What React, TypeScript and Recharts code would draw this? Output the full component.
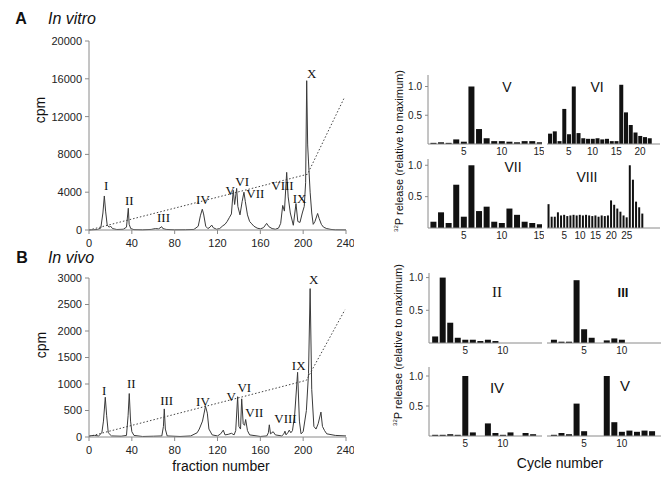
import React from "react";
import {
  LineChart,
  Line,
  BarChart,
  Bar,
  XAxis,
  YAxis,
  ReferenceDot,
} from "recharts";

const SANS = "'Liberation Sans', Arial, Helvetica, sans-serif";
const SERIF = "'Liberation Serif', 'Times New Roman', serif";
const AXIS = "#8a8a8a";
const INK = "#222";

// ---- chromatograms: [fraction, cpm]
const vitroTrace: [number, number][] = [
  [0, 0], [4, 30], [8, 60], [11, 200], [13, 1800], [14.3, 3600], [15.5, 2000], [17, 500],
  [19, 300], [20, 420], [22, 150], [26, 50], [32, 80], [35, 300], [36.7, 2300], [37.5, 600],
  [39, 150], [42, 40], [50, 20], [58, 60], [62, 150], [65, 120], [67.9, 350], [69, 150],
  [72, 60], [80, 20], [90, 30], [98, 60], [102, 400], [104, 1500], [105.8, 2200], [107, 1700],
  [109, 400], [111, 150], [113, 300], [114.6, 520], [116, 250], [119, 80], [122, 150],
  [125, 450], [127, 600], [129, 900], [131, 1300], [133, 1700], [134.7, 4200], [136, 2700],
  [137.9, 4400], [139, 2500], [141, 1600], [143, 3000], [144.7, 4000], [146, 3000],
  [148, 1600], [150, 900], [152, 650], [154, 400], [157, 200], [160, 120], [163, 250],
  [165.9, 700], [168, 350], [171, 150], [174, 80], [177, 200], [179, 700], [180.9, 2600],
  [182.5, 2000], [184.6, 6100], [186, 3500], [188, 1800], [190.8, 500], [193.3, 2800],
  [195, 900], [197, 800], [199.2, 1800], [201, 2500], [202.3, 5000], [203.3, 15800],
  [204.2, 9000], [205, 7200], [206.5, 4000], [208, 1800], [209.4, 600], [211, 900],
  [213.5, 1750], [215, 1200], [217, 600], [219, 300], [222, 150], [226, 60], [230, 20],
  [240, 10],
];
const vitroGradient: [number, number][] = [[0, 0], [204, 5900], [238, 13900]];

const vivoTrace: [number, number][] = [
  [0, 20], [5, 30], [9, 20], [12, 80], [13.5, 300], [15.2, 750], [16.5, 400], [18, 80],
  [21, 20], [30, 15], [35, 30], [36.5, 400], [37.6, 820], [38.8, 300], [40, 100], [42, 30],
  [50, 10], [60, 15], [68, 20], [69.5, 200], [70.3, 530], [71.3, 150], [73, 20], [85, 10],
  [95, 20], [101, 80], [103, 150], [106, 300], [108.8, 580], [110.5, 450], [112, 150],
  [115, 40], [120, 20], [123, 60], [125.4, 130], [127, 40], [130, 50], [133, 70],
  [135.5, 40], [137, 120], [138.8, 760], [140, 200], [141.5, 150], [142.6, 720], [144, 250],
  [145.3, 220], [146.3, 330], [148, 120], [150, 40], [160, 10], [166, 20], [167.5, 80],
  [168.4, 230], [169.5, 60], [172, 100], [174, 40], [180, 20], [182, 60], [183, 110],
  [184, 40], [186, 90], [187, 130], [188.5, 80], [190, 120], [192, 400], [194.8, 1220],
  [196.5, 300], [198, 60], [200, 100], [203, 500], [205, 1200], [206.5, 2800], [208, 900],
  [210, 200], [212, 150], [214, 250], [216.6, 470], [218, 200], [220, 120], [222, 60],
  [230, 30], [240, 20],
];
const vivoGradient: [number, number][] = [[0, 10], [203, 1070], [239, 2400]];

const fractionTicks = [0, 40, 80, 120, 160, 200, 240];
const vitroCpmTicks = [0, 4000, 8000, 12000, 16000, 20000];
const vivoCpmTicks = [0, 500, 1000, 1500, 2000, 2500, 3000];

// peak names and where they are written, [name, fraction, cpm]
const vitroPeaks: [string, number, number][] = [
  ["I", 16, 4760], ["II", 37.6, 3170], ["III", 69.6, 1375], ["IV", 106.4, 3280],
  ["V", 131.8, 4127], ["VI", 143, 5080], ["VII", 155.3, 3915], ["VIII", 180.7, 4760],
  ["IX", 196.7, 3386], ["X", 208, 16610],
];
const vivoPeaks: [string, number, number][] = [
  ["I", 14.1, 881], ["II", 39.5, 1013], ["III", 72.5, 692], ["IV", 106.4, 679],
  ["V", 132.7, 768], ["VI", 145, 925], ["VII", 154.4, 453], ["VIII", 183.5, 353],
  ["IX", 195.8, 1353], ["X", 209.9, 2976],
];

// ---- 32P release per cycle (relative to maximum)
const vitroV = [0.02, 0.03, 0.02, 0.08, 0.04, 1.0, 0.26, 0.1, 0.05, 0.05, 0.04, 0.03, 0.05, 0.05, 0.03];
const vitroVI = [0.18, 0.22, 0.05, 0.61, 0.17, 1.0, 0.19, 0.1, 0.09, 0.09, 0.1, 0.08, 0.09, 0.05, 0.05, 1.03, 0.55, 0.33, 0.2, 0.14, 0.12, 0.1];
const vitroVII = [0.1, 0.25, 0.08, 0.69, 0.18, 1.0, 0.27, 0.34, 0.1, 0.08, 0.31, 0.21, 0.1, 0.08, 0.06];
const vitroVIII = [0.38, 0.18, 0.18, 0.25, 0.2, 0.21, 0.19, 0.2, 0.21, 0.2, 0.21, 0.2, 0.21, 0.2, 0.19, 0.2, 0.18, 0.2, 0.19, 0.2, 0.44, 0.37, 0.31, 0.26, 0.2, 0.17, 1.0, 0.77, 0.42, 0.33, 0.23];
const vivoII = [0.1, 1.0, 0.31, 0.08, 0.05, 0.05, 0.03, 0.05, 0.03];
const vivoIII = [0.05, 0.02, 0.02, 0.96, 0.21, 0.08, 0, 0.04, 0.07, 0.05];
const vivoIV = [0.02, 0.02, 0.03, 0.02, 1.0, 0.06, 0, 0.21, 0.05, 0.02, 0.06, 0, 0.05, 0.03];
const vivoV = [0.02, 0.05, 0.03, 0.54, 0.08, 0, 0, 1.0, 0.23, 0.07, 0.09, 0.07, 0.09, 0.08];

const cycleTicks15 = [5, 10, 15];
const cycleTicks10 = [5, 10];
const cycleTicks20 = [5, 10, 15, 20];
const cycleTicks25 = [5, 10, 15, 20, 25];
const releaseTicks = [0.5, 1.0];

const toRows = (pts: [number, number][]) => pts.map(([f, cpm]) => ({ f, cpm }));
const toCycles = (vals: number[], first = 1) => vals.map((v, i) => ({ c: i + first, v }));

function Txt({ x, y, size, children, style }: any) {
  return (
    <div
      style={{
        position: "absolute",
        left: x,
        top: y,
        transform: "translate(-50%, -50%)",
        fontFamily: SANS,
        fontSize: size,
        lineHeight: 1,
        whiteSpace: "nowrap",
        color: "#111",
        ...style,
      }}
    >
      {children}
    </div>
  );
}

function Chromatogram({ top, plotH, trace, gradient, yMax, yTicks, peaks, tickGap }: any) {
  return (
    <div style={{ position: "absolute", left: 39, top }}>
      <LineChart width={315} height={10 + plotH + 22} margin={{ top: 10, right: 8, bottom: 0, left: 0 }}>
        <XAxis
          type="number"
          dataKey="f"
          domain={[0, 240]}
          ticks={fractionTicks}
          height={22}
          stroke={AXIS}
          tickSize={4}
          tickMargin={tickGap}
          tick={{ fill: INK, fontSize: 11, fontFamily: SANS }}
        />
        <YAxis
          type="number"
          domain={[0, yMax]}
          ticks={yTicks}
          width={50}
          stroke={AXIS}
          tickSize={4}
          tickMargin={3}
          tick={{ fill: INK, fontSize: 11, fontFamily: SANS }}
        />
        <Line
          data={toRows(gradient)}
          dataKey="cpm"
          type="linear"
          stroke="#444"
          strokeWidth={1}
          strokeDasharray="1.5 2"
          dot={false}
          isAnimationActive={false}
        />
        <Line
          data={toRows(trace)}
          dataKey="cpm"
          type="linear"
          stroke="#3a3a3a"
          strokeWidth={1}
          dot={false}
          isAnimationActive={false}
        />
        {peaks.map(([name, f, cpm]: [string, number, number]) => (
          <ReferenceDot
            key={name}
            x={f}
            y={cpm}
            r={0}
            ifOverflow="visible"
            shape={(p: any) => (
              <text
                x={p.cx}
                y={p.cy}
                textAnchor="middle"
                dominantBaseline="central"
                fontFamily={SERIF}
                fontSize={13}
                fill="#111"
              >
                {name}
              </text>
            )}
          />
        ))}
      </LineChart>
    </div>
  );
}

function Release({ data, left, top, width, height, xDomain, xTicks, yMax, showY }: any) {
  const yw = showY ? 30 : 0;
  return (
    <div style={{ position: "absolute", left: left - yw, top: top - 2 }}>
      <BarChart
        width={yw + width + 2}
        height={2 + height + 18}
        data={data}
        margin={{ top: 2, right: 2, bottom: 0, left: 0 }}
        barCategoryGap="12%"
      >
        <XAxis
          type="number"
          dataKey="c"
          domain={xDomain}
          ticks={xTicks}
          allowDataOverflow
          height={18}
          stroke={AXIS}
          tickLine={false}
          tickSize={0}
          tickMargin={4}
          tick={{ fill: INK, fontSize: 10, fontFamily: SANS }}
        />
        <YAxis
          type="number"
          domain={[0, yMax]}
          ticks={showY ? releaseTicks : []}
          width={yw}
          stroke={AXIS}
          tick={showY ? { fill: INK, fontSize: 10, fontFamily: SANS } : false}
          tickLine={showY}
          tickSize={3}
          tickMargin={3}
          tickFormatter={(v: number) => v.toFixed(1)}
          allowDataOverflow
        />
        <Bar dataKey="v" fill="#111" isAnimationActive={false} />
      </BarChart>
    </div>
  );
}

function ReleaseLabel({ x, y }: any) {
  return (
    <Txt x={x} y={y} size={11} style={{ transform: "translate(-50%, -50%) rotate(-90deg)" }}>
      <sup style={{ fontSize: 6 }}>32</sup>P release (relative to maximum)
    </Txt>
  );
}

export default function App() {
  return (
    <div
      style={{
        position: "fixed",
        left: 0,
        top: 0,
        width: 672,
        height: 479,
        background: "#fff",
        overflow: "hidden",
      }}
    >
      {/* panel A */}
      <Txt x={21} y={19} size={16} style={{ fontWeight: "bold" }}>A</Txt>
      <Txt x={72} y={19} size={16} style={{ fontStyle: "italic" }}>In vitro</Txt>
      <Txt x={40} y={110} size={14} style={{ transform: "translate(-50%, -50%) rotate(-90deg)" }}>cpm</Txt>
      <Chromatogram
        top={31}
        plotH={189}
        trace={vitroTrace}
        gradient={vitroGradient}
        yMax={20000}
        yTicks={vitroCpmTicks}
        peaks={vitroPeaks}
        tickGap={5}
      />

      {/* panel B */}
      <Txt x={22} y={258} size={16} style={{ fontWeight: "bold" }}>B</Txt>
      <Txt x={71} y={258} size={16} style={{ fontStyle: "italic" }}>In vivo</Txt>
      <Txt x={41} y={345} size={14} style={{ transform: "translate(-50%, -50%) rotate(-90deg)" }}>cpm</Txt>
      <Chromatogram
        top={268}
        plotH={159}
        trace={vivoTrace}
        gradient={vivoGradient}
        yMax={3000}
        yTicks={vivoCpmTicks}
        peaks={vivoPeaks}
        tickGap={5}
      />
      <Txt x={221} y={466} size={14}>fraction number</Txt>

      {/* release profiles, in vitro */}
      <ReleaseLabel x={399} y={151} />
      <Release data={toCycles(vitroV)} left={428} top={75} width={114} height={69} xDomain={[0.3, 15.3]} xTicks={cycleTicks15} yMax={1.2} showY />
      <Release data={toCycles(vitroVI)} left={547} top={75} width={113} height={69} xDomain={[0.4, 24.2]} xTicks={cycleTicks20} yMax={1.2} />
      <Release data={toCycles(vitroVII)} left={428} top={159} width={114} height={69} xDomain={[0.3, 15.3]} xTicks={cycleTicks15} yMax={1.1} showY />
      <Release data={toCycles(vitroVIII, 0)} left={547} top={159} width={113} height={69} xDomain={[-0.55, 35.6]} xTicks={cycleTicks25} yMax={1.1} />
      <Txt x={507} y={87} size={14}>V</Txt>
      <Txt x={597} y={87} size={14}>VI</Txt>
      <Txt x={513} y={167} size={14}>VII</Txt>
      <Txt x={587} y={177} size={14}>VIII</Txt>

      {/* release profiles, in vivo */}
      <ReleaseLabel x={398} y={345} />
      <Release data={toCycles(vivoII)} left={429} top={273} width={113} height={70} xDomain={[0.2, 15.2]} xTicks={cycleTicks10} yMax={1.07} showY />
      <Release data={toCycles(vivoIII)} left={547} top={273} width={114} height={70} xDomain={[0.1, 15.2]} xTicks={cycleTicks10} yMax={1.07} />
      <Release data={toCycles(vivoIV)} left={429} top={367} width={113} height={69} xDomain={[0.2, 15.2]} xTicks={cycleTicks10} yMax={1.15} showY />
      <Release data={toCycles(vivoV)} left={547} top={367} width={114} height={69} xDomain={[0.1, 15.2]} xTicks={cycleTicks10} yMax={1.15} />
      <Txt x={497} y={292} size={15} style={{ fontFamily: SERIF }}>II</Txt>
      <Txt x={623} y={292} size={13} style={{ fontWeight: "bold" }}>III</Txt>
      <Txt x={497} y={387} size={15}>IV</Txt>
      <Txt x={625} y={385} size={15}>V</Txt>
      <Txt x={560} y={463} size={14}>Cycle number</Txt>
    </div>
  );
}
